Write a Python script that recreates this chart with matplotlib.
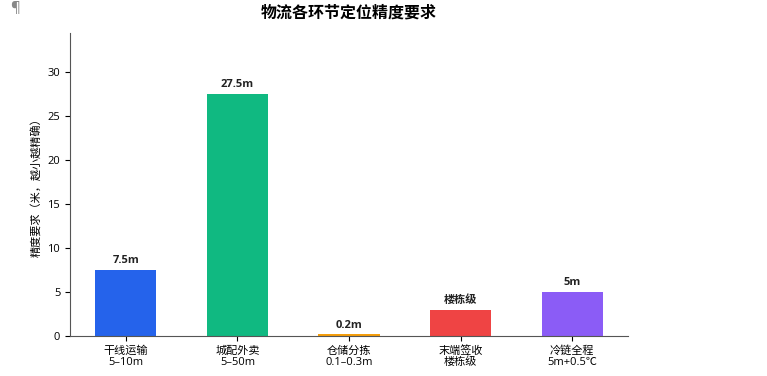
import matplotlib
matplotlib.use("Agg")
import matplotlib.pyplot as plt

plt.rcParams['font.family'] = ['Open Sans', 'Noto Sans CJK SC', 'DejaVu Sans']

categories = ['干线运输\n5–10m', '城配外卖\n5–50m', '仓储分拣\n0.1–0.3m', '末端签收\n楼栋级', '冷链全程\n5m+0.5℃']
values = [7.5, 27.5, 0.2, 3, 5]
bar_labels = ['7.5m', '27.5m', '0.2m', '楼栋级', '5m']
colors = ['#2563EB', '#10B981', '#F59E0B', '#EF4444', '#8B5CF6']

fig = plt.figure(figsize=(7.67, 3.76), dpi=100)
ax = fig.add_axes([70 / 767, 40 / 376, 558 / 767, 303 / 376])

x = range(len(categories))
bars = ax.bar(x, values, width=0.55, color=colors)
for b, lab in zip(bars, bar_labels):
    ax.text(b.get_x() + b.get_width() / 2, b.get_height() + 0.4, lab,
            ha='center', va='bottom', fontsize=8, fontweight='bold', color='#222222')

ax.set_xticks(list(x))
ax.set_xticklabels(categories, fontsize=8, linespacing=1.0)
ax.tick_params(axis='y', labelsize=8)
ax.set_xlim(-0.5, 4.5)
ax.set_ylim(0, max(values) * 1.25)
ax.set_yticks([0, 5, 10, 15, 20, 25, 30])
ax.set_ylabel('精度要求（米，越小越精确）', fontsize=8)
ax.set_title('物流各环节定位精度要求', fontsize=11.5, fontweight='bold', pad=11)
ax.spines['top'].set_visible(False)
ax.spines['right'].set_visible(False)
for s in ['left', 'bottom']:
    ax.spines[s].set_color('#555555')

fig.text(10 / 767, 1 - 9 / 376, '¶', fontsize=11, color='#888888', ha='left', va='center')

fig.savefig('out.png', dpi=100)
